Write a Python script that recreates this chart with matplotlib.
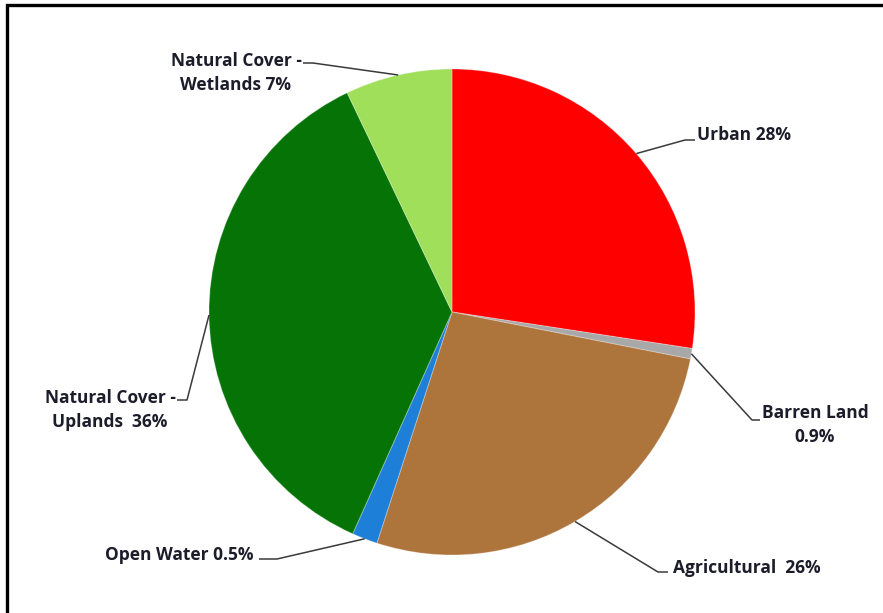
import numpy as np
import matplotlib
matplotlib.use("Agg")
import matplotlib.pyplot as plt
from matplotlib.patches import Rectangle

# land cover shares (slice sizes, label text as printed)
categories = ["Urban", "Barren Land", "Agricultural", "Open Water",
              "Natural Cover - Uplands", "Natural Cover - Wetlands"]
shares = [27.4, 0.7, 26.9, 1.7, 36.2, 7.1]
labels = ["Urban 28%", "Barren Land\n0.9%", "Agricultural  26%", "Open Water 0.5%",
          "Natural Cover -\nUplands  36%", "Natural Cover -\nWetlands 7%"]
colors = ["#ff0000", "#a8a8a8", "#ad743c", "#1e7fd8", "#067306", "#9fdf5a"]

W, H = 883, 613
fig = plt.figure(figsize=(W / 100, H / 100), dpi=100)
ax = fig.add_axes([0, 0, 1, 1])

cx, cy, r = 452, H - 312, 243
wedges, _ = ax.pie(shares, colors=colors, startangle=90, counterclock=False,
                   center=(cx, cy), radius=r, frame=True,
                   wedgeprops=dict(linewidth=0.8, edgecolor="#ffffff40"))
ax.set_xlim(0, W)
ax.set_ylim(0, H)
ax.axis("off")

# label placement: text anchor (x, y from top), alignment, elbow point (x, y from top), line end x
lab_pos = [
    ((697, 135), "left", (685, 140), 695),
    ((815, 425), "center", (752, 420), 760),
    ((673, 568), "left", (658, 572), 668),
    ((105, 555), "left", (277, 559), 259),
    ((110, 410), "center", (187, 400), 177),
    ((236, 73), "center", (313, 63), 303),
]

for w, lab, (tp, ha, ep, lx) in zip(wedges, labels, lab_pos):
    ang = np.deg2rad((w.theta1 + w.theta2) / 2)
    px, py = cx + r * np.cos(ang), cy + r * np.sin(ang)
    ex, ey = ep[0], H - ep[1]
    ax.plot([px, ex, lx], [py, ey, ey], color="#3a3a3a", lw=1.1,
            solid_capstyle="butt", zorder=3)
    ax.text(tp[0], H - tp[1], lab, ha=ha, va="center", multialignment="center",
            fontsize=12.5, fontweight="bold", family=["Open Sans", "DejaVu Sans"],
            color="#1c1c2a", linespacing=1.4)

# outer frame (only top and left edges fall inside the image)
ax.add_patch(Rectangle((7, -20), W + 20, H - 5 + 20, fill=False,
                       edgecolor="black", lw=2.4, clip_on=False))

fig.savefig("out.png", dpi=100)
